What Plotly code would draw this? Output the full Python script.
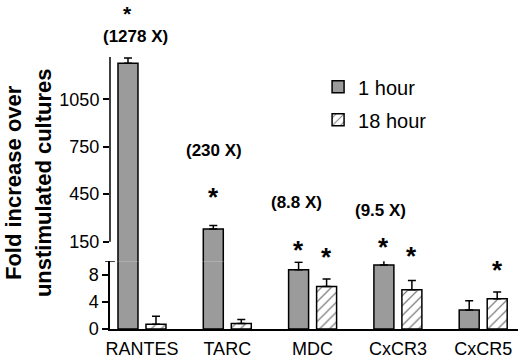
import plotly.graph_objects as go

categories = ["RANTES", "TARC", "MDC", "CxCR3", "CxCR5"]
hour1 = [1278, 230, 8.8, 9.5, 2.8]
hour1_err = [32, 22, 1.1, 1.0, 1.4]
hour18 = [0.7, 0.8, 6.3, 5.8, 4.5]
hour18_err = [1.2, 0.6, 1.1, 1.4, 1.0]
fold_labels = ["(1278 X)", "(230 X)", "(8.8 X)", "(9.5 X)", None]
sig1 = [True, True, True, True, False]
sig18 = [False, False, True, True, True]

low_ticks = [0, 4, 8]
high_ticks = [150, 450, 750, 1050]
low_range = [0, 10.04]
high_range = [25.9, 1317]

FONT = "Liberation Sans, Arial, sans-serif"
GRAY = "#9b9b9b"

fig = go.Figure()

def add_bars(xa, ya, show):
    fig.add_trace(go.Bar(
        x=categories, y=hour1, name="1 hour", xaxis=xa, yaxis=ya,
        marker=dict(color=GRAY, line=dict(color="black", width=1.5)),
        error_y=dict(type="data", array=hour1_err, arrayminus=[0] * len(hour1),
                     symmetric=False, color="black", thickness=1.5, width=4),
        showlegend=show, legendgroup="a",
    ))
    fig.add_trace(go.Bar(
        x=categories, y=hour18, name="18 hour", xaxis=xa, yaxis=ya,
        marker=dict(color="white", line=dict(color="black", width=1.5),
                    pattern=dict(shape="/", fgcolor="black", bgcolor="white",
                                 size=7, solidity=0.18)),
        error_y=dict(type="data", array=hour18_err, arrayminus=[0] * len(hour18),
                     symmetric=False, color="black", thickness=1.5, width=4),
        showlegend=show, legendgroup="b",
    ))

add_bars("x", "y", True)
add_bars("x2", "y2", False)

xr = [-0.375, 4.408]
split = 0.249

fig.update_layout(
    width=520, height=361,
    margin=dict(l=110, r=2, t=57, b=27),
    paper_bgcolor="white", plot_bgcolor="white",
    barmode="group", bargap=0.3435, bargroupgap=0.286,
    font=dict(family=FONT, color="black"),
    xaxis=dict(domain=[0, 1], range=xr, anchor="y", showline=True,
               linecolor="black", linewidth=1.5, ticks="", showgrid=False,
               zeroline=False, tickfont=dict(size=18), ticklabelstandoff=3),
    yaxis=dict(domain=[0, split], range=low_range, anchor="x", showline=True,
               linecolor="black", linewidth=1.5, ticks="outside", ticklen=6,
               tickwidth=1.5, tickcolor="black", tickvals=low_ticks,
               showgrid=False, zeroline=False, tickfont=dict(size=18)),
    xaxis2=dict(domain=[0, 1], range=xr, anchor="y2", matches="x",
                visible=False),
    yaxis2=dict(domain=[split, 1], range=high_range, anchor="x2",
                showline=False, ticks="outside", ticklen=6, tickwidth=1.5,
                tickcolor="black", tickvals=high_ticks, showgrid=False,
                zeroline=False, tickfont=dict(size=18)),
    legend=dict(x=0.51, y=0.962, xanchor="left", yanchor="top",
                font=dict(size=20), tracegroupgap=4, bgcolor="rgba(0,0,0,0)"),
    showlegend=True,
)

# upper axis line and break cap
fig.add_shape(type="line", xref="paper", yref="y2", x0=0, x1=0,
              y0=high_ticks[0], y1=high_range[1],
              line=dict(color="black", width=1.5))
fig.add_shape(type="line", xref="paper", yref="y", x0=-0.012, x1=0.012,
              y0=low_range[1], y1=low_range[1],
              line=dict(color="black", width=1.5))

# y title (two lines)
fig.add_annotation(text="<b>Fold increase over</b>", xref="paper", yref="paper",
                   x=-0.2368, y=0.538, textangle=-90, showarrow=False,
                   font=dict(size=22), xanchor="center", yanchor="middle")
fig.add_annotation(text="<b>unstimulated cultures</b>", xref="paper", yref="paper",
                   x=-0.1632, y=0.538, textangle=-90, showarrow=False,
                   font=dict(size=22), xanchor="center", yanchor="middle")

# fold labels and asterisks (positions in paper units)
fold_pos = [(-6, 1.074), (-13, 0.657), (-16, 0.466), (-17, 0.437), None]
star1_pos = [(1.2058, "top", 21), (0.487, "middle", 26), (0.292, "middle", 26),
             (0.300, "middle", 26), None]
star18_y = [None, None, 0.264, 0.267, 0.217]
for i, c in enumerate(categories):
    if fold_labels[i]:
        dx, yy = fold_pos[i]
        fig.add_annotation(text="<b>%s</b>" % fold_labels[i], x=c, xref="x",
                           xshift=dx, y=yy, yref="paper", showarrow=False,
                           font=dict(size=17), yanchor="middle", borderpad=0)
    if sig1[i]:
        yy, anc, fs = star1_pos[i]
        fig.add_annotation(text="<b>*</b>", x=c, xref="x", xshift=-14,
                           y=yy, yref="paper", showarrow=False,
                           font=dict(size=fs), yanchor=anc, borderpad=0)
    if sig18[i]:
        fig.add_annotation(text="<b>*</b>", x=c, xref="x", xshift=14,
                           y=star18_y[i], yref="paper", showarrow=False,
                           font=dict(size=26), yanchor="middle", borderpad=0)

fig.write_html("out.html", config={"displayModeBar": False},
               post_script="document.body.style.margin='0';"
                           "document.body.style.overflow='hidden';")
